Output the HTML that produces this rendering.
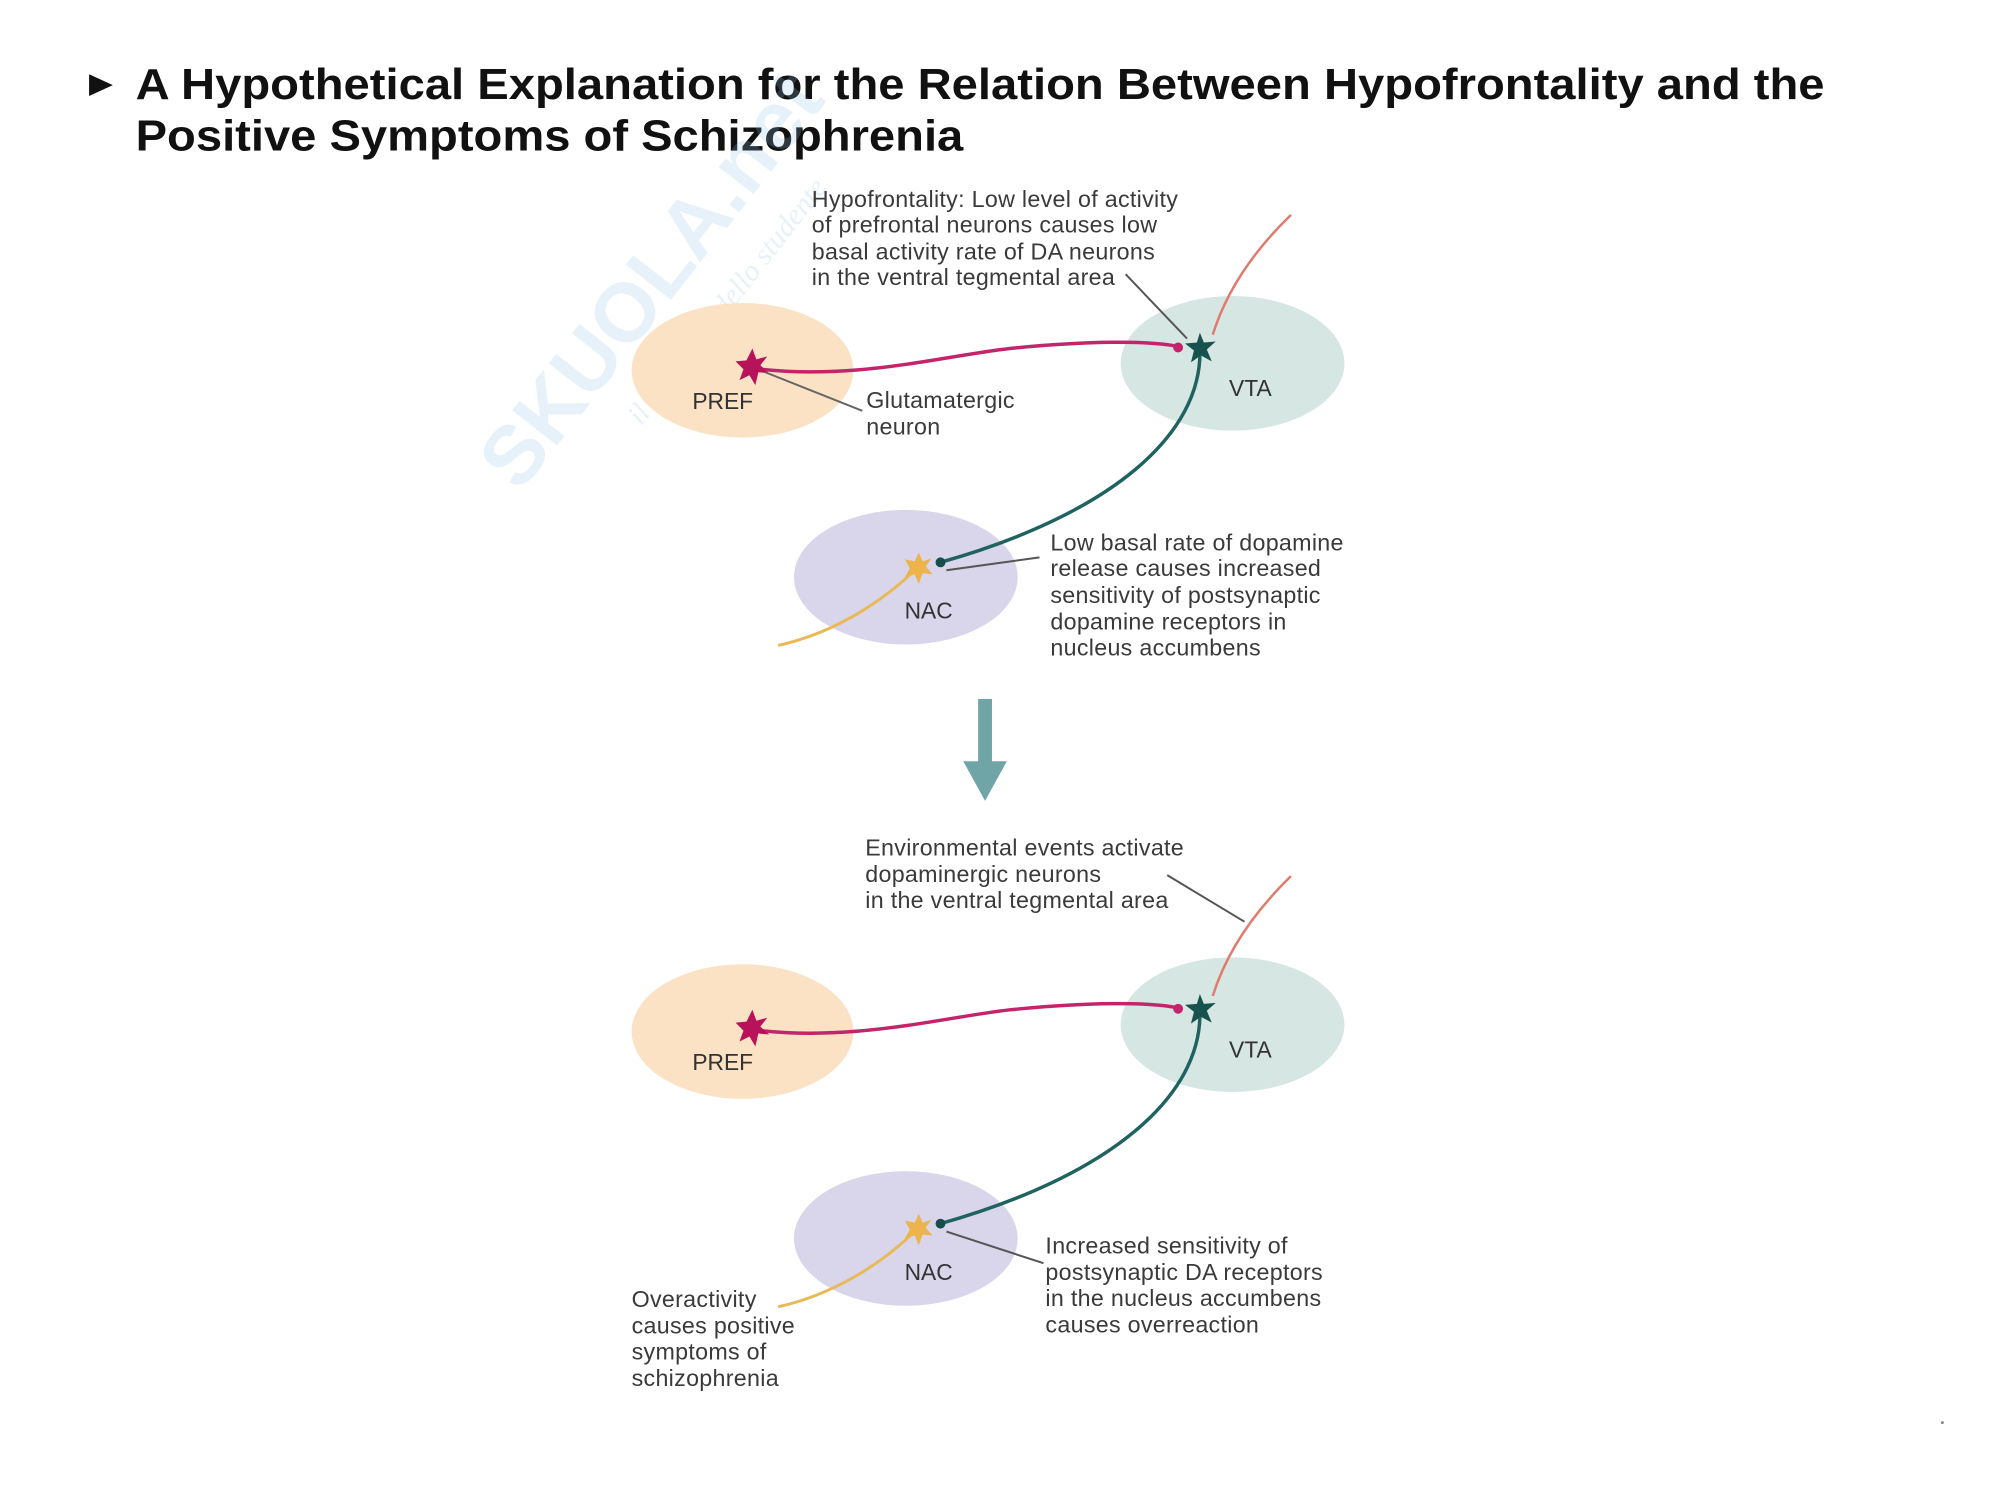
<!DOCTYPE html>
<html><head><meta charset="utf-8"><style>
html,body{margin:0;padding:0;background:#fff;width:2000px;height:1500px;overflow:hidden}
svg{display:block}
.t{font-family:"Liberation Sans",Arial,sans-serif;fill:#3a3a3a;font-size:23.5px;letter-spacing:0.3px}
.lb{font-family:"Liberation Sans",Arial,sans-serif;fill:#333;font-size:23px}
</style></head><body>
<svg width="2000" height="1500" viewBox="0 0 2000 1500" xmlns="http://www.w3.org/2000/svg">
<g transform="scale(0.99)">
<polygon points="90,75 114,86 90,97" fill="#111"/>
<text x="137" y="100" font-family="Liberation Sans, Arial, sans-serif" font-weight="bold" font-size="44" fill="#111" textLength="1706" lengthAdjust="spacingAndGlyphs">A Hypothetical Explanation for the Relation Between Hypofrontality and the</text>
<text x="137" y="152" font-family="Liberation Sans, Arial, sans-serif" font-weight="bold" font-size="44" fill="#111" textLength="836" lengthAdjust="spacingAndGlyphs">Positive Symptoms of Schizophrenia</text>

<g transform="translate(680,300) rotate(-52)" opacity="0.22">
<text x="0" y="0" font-family="Liberation Sans, Arial, sans-serif" font-weight="bold" font-size="84" fill="#8fc3e6" text-anchor="middle">SKUOLA.net</text>
<text x="30" y="55" font-family="Liberation Serif, serif" font-style="italic" font-size="30" fill="#8fc3e6" text-anchor="middle">il paradiso dello studente</text>
</g>

<defs>
<g id="panel">
<ellipse cx="750" cy="374" rx="112" ry="68" fill="#fbe2c4"/>
<ellipse cx="1245" cy="367" rx="113" ry="68" fill="#d6e6e3"/>
<ellipse cx="915" cy="583" rx="113" ry="68" fill="#d9d6ec"/>
<path d="M760,372 C860,385 950,360 1020,352 C1100,344 1160,344 1190,350" fill="none" stroke="#c4246c" stroke-width="3.5"/>
<circle cx="1190" cy="351" r="5" fill="#c4246c"/>
<path d="M1212,352 C1215,440 1120,520 950,568" fill="none" stroke="#1f6360" stroke-width="3.5"/>
<circle cx="950" cy="568" r="5" fill="#164f4c"/>
<path d="M928,572 C890,610 840,640 786,652" fill="none" stroke="#e8b956" stroke-width="3"/>
<polygon points="760,352 764,363 775,360 768,369 777,377 766,376 763,389 757,379 747,384 751,373 743,365 754,364" fill="#b8125a"/>
<polygon points="1212,336 1216,346 1228,345 1219,353 1224,365 1213,359 1203,366 1206,354 1197,347 1209,346" fill="#17524e"/>
<polygon points="928,558 932,567 941,564 935,572 942,580 932,579 928,590 924,580 914,583 919,574 914,565 924,567" fill="#ecb44a"/>
<text class="lb" x="730" y="413" text-anchor="middle">PREF</text>
<text class="lb" x="1263" y="400" text-anchor="middle">VTA</text>
<text class="lb" x="938" y="625" text-anchor="middle">NAC</text>
</g>
</defs>

<use href="#panel"/>
<use href="#panel" transform="translate(0,668)"/>

<path d="M1304,217 C1270,250 1240,290 1225,338" fill="none" stroke="#e07a6c" stroke-width="2.5"/>
<line x1="1137" y1="277" x2="1199" y2="342" stroke="#555" stroke-width="2"/>
<line x1="773" y1="376" x2="871" y2="415" stroke="#666" stroke-width="2"/>
<line x1="956" y1="576" x2="1050" y2="563" stroke="#555" stroke-width="2"/>
<text class="t" x="820" y="209">Hypofrontality: Low level of activity</text>
<text class="t" x="820" y="235">of prefrontal neurons causes low</text>
<text class="t" x="820" y="262">basal activity rate of DA neurons</text>
<text class="t" x="820" y="288">in the ventral tegmental area</text>
<text class="t" x="875" y="412">Glutamatergic</text>
<text class="t" x="875" y="439">neuron</text>
<text class="t" x="1061" y="556">Low basal rate of dopamine</text>
<text class="t" x="1061" y="582">release causes increased</text>
<text class="t" x="1061" y="609">sensitivity of postsynaptic</text>
<text class="t" x="1061" y="636">dopamine receptors in</text>
<text class="t" x="1061" y="662">nucleus accumbens</text>

<rect x="988" y="706" width="14" height="65" fill="#6fa5a6"/>
<polygon points="973,769 1017,769 995,809" fill="#6fa5a6"/>

<path d="M1304,885 C1270,918 1240,958 1225,1006" fill="none" stroke="#e07a6c" stroke-width="2.5"/>
<line x1="1179" y1="884" x2="1257" y2="931" stroke="#555" stroke-width="2"/>
<line x1="956" y1="1244" x2="1054" y2="1276" stroke="#555" stroke-width="2"/>
<text class="t" x="874" y="864">Environmental events activate</text>
<text class="t" x="874" y="891">dopaminergic neurons</text>
<text class="t" x="874" y="917">in the ventral tegmental area</text>
<text class="t" x="1056" y="1266">Increased sensitivity of</text>
<text class="t" x="1056" y="1293">postsynaptic DA receptors</text>
<text class="t" x="1056" y="1319">in the nucleus accumbens</text>
<text class="t" x="1056" y="1346">causes overreaction</text>
<text class="t" x="638" y="1320">Overactivity</text>
<text class="t" x="638" y="1347">causes positive</text>
<text class="t" x="638" y="1373">symptoms of</text>
<text class="t" x="638" y="1400">schizophrenia</text>
<circle cx="1962" cy="1437" r="1.5" fill="#888"/>
</g>
</svg>
</body></html>
